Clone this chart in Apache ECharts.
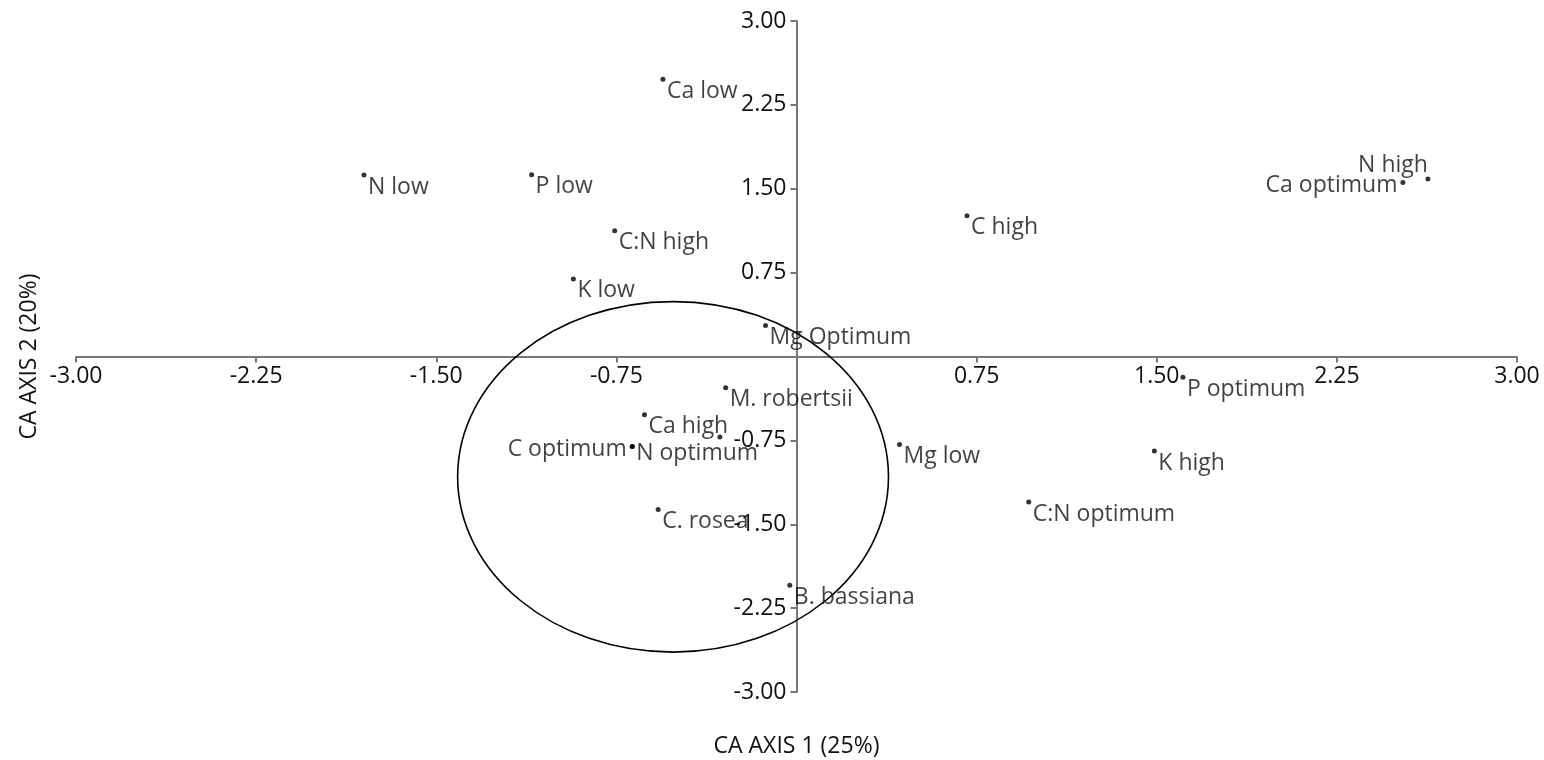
<!DOCTYPE html>
<html>
<head>
<meta charset="utf-8">
<script src="https://cdn.jsdelivr.net/npm/echarts@6/dist/echarts.min.js"></script>
<style>
    html, body { margin: 0; padding: 0; background: #fff; }
    #chart { width: 1544px; height: 760px; }
</style>
</head>
<body>
<div id="chart"></div>
<script>
    // CA ordination scores
    const names = ['Ca low', 'N low', 'P low', 'C:N high', 'K low', 'Mg Optimum', 'M. robertsii',
        'Ca high', '', 'C optimum', 'N optimum', 'C. rosea', 'B. bassiana', 'C high', 'Mg low',
        'K high', 'C:N optimum', 'P optimum', 'Ca optimum', 'N high'];
    const axis1 = [-0.556, -1.801, -1.103, -0.757, -0.929, -0.129, -0.295,
        -0.633, -0.319, -0.684, -0.684, -0.576, -0.028, 0.710, 0.429,
        1.490, 0.967, 1.609, 2.525, 2.629];
    const axis2 = [2.479, 1.622, 1.625, 1.125, 0.694, 0.277, -0.280,
        -0.521, -0.720, -0.804, -0.804, -1.369, -2.045, 1.259, -0.786,
        -0.845, -1.301, -0.185, 1.556, 1.587];

    // ellipse drawn round the entomopathogen group: centre x, centre y, radius x, radius y
    const groupEllipse = [[-0.514, -1.076, 0.897, 1.567]];

    // labels not placed to the right of their point (position relative to the 5px symbol box)
    const labelPlace = {
        'Ca optimum': { position: [-3, 5.5], align: 'right' },
        'C optimum': { position: [-3, 5.5], align: 'right' },
        'N high': { position: [2.5, -11.5], align: 'right' },
        'N optimum': { position: [6.5, 9.5], align: 'left' }
    };

    const FONT = 'Open Sans';
    const TXT = '#111';
    const FS = 23;

    // grid box; the axes are shifted onto the zero lines with offset
    const G = { left: 76, right: 27, top: 21, bottom: 68 };
    const W = 1544 - G.left - G.right, H = 760 - G.top - G.bottom;

    let myChart = echarts.init(document.getElementById('chart'));

    const points = names.map((n, i) => {
        let item = { name: n, value: [axis1[i], axis2[i]] };
        if (labelPlace[n]) item.label = labelPlace[n];
        return item;
    });

    const fmt = v => (v === 0 ? '' : v.toFixed(2));

    myChart.setOption({
        animation: false,
        textStyle: { fontFamily: FONT },
        grid: Object.assign({ containLabel: false, outerBoundsMode: 'none' }, G),
        xAxis: {
            type: 'value',
            position: 'bottom',
            offset: -H / 2,
            min: -3, max: 3, interval: 0.75,
            name: 'CA AXIS 1 (25%)',
            nameLocation: 'middle',
            nameGap: 378,
            nameTextStyle: { fontFamily: FONT, fontSize: FS, color: TXT, verticalAlign: 'top' },
            splitLine: { show: false },
            axisLine: { onZero: false, lineStyle: { color: '#777', width: 2 } },
            axisTick: { length: 6, lineStyle: { color: '#777', width: 2 } },
            axisLabel: { fontFamily: FONT, fontSize: FS, color: TXT, margin: 8, formatter: fmt }
        },
        yAxis: {
            type: 'value',
            position: 'left',
            offset: -W / 2,
            min: -3, max: 3, interval: 0.75,
            name: 'CA AXIS 2 (20%)',
            nameLocation: 'middle',
            nameRotate: 90,
            nameGap: 756,
            nameTextStyle: { fontFamily: FONT, fontSize: FS, color: TXT },
            splitLine: { show: false },
            axisLine: { onZero: false, lineStyle: { color: '#777', width: 2 } },
            axisTick: { length: 6, lineStyle: { color: '#777', width: 2 } },
            axisLabel: { fontFamily: FONT, fontSize: FS, color: TXT, margin: 10, formatter: fmt }
        },
        series: [
            {
                type: 'custom',
                silent: true,
                renderItem: function (params, api) {
                    const c = api.coord([api.value(0), api.value(1)]);
                    const s = api.size([api.value(2), api.value(3)]);
                    return {
                        type: 'ellipse',
                        shape: { cx: c[0], cy: c[1], rx: s[0], ry: s[1] },
                        style: { fill: 'none', stroke: '#000', lineWidth: 1.6 }
                    };
                },
                data: groupEllipse
            },
            {
                type: 'scatter',
                symbolSize: 5,
                itemStyle: { color: '#000' },
                label: {
                    show: true,
                    position: [6.5, 14.5],
                    align: 'left',
                    verticalAlign: 'middle',
                    formatter: '{b}',
                    fontFamily: FONT,
                    fontSize: FS,
                    color: TXT
                },
                data: points
            }
        ]
    });
</script>
</body>
</html>
